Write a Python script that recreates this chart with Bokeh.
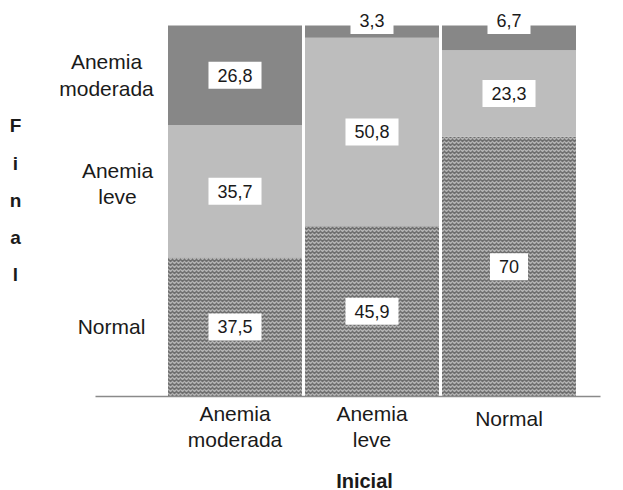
from bokeh.plotting import figure
from bokeh.models import Range1d
from bokeh.core.properties import value
from bokeh.embed import file_html
from bokeh.resources import INLINE

# ---- data ----
inicial = ["Anemia moderada", "Anemia leve", "Normal"]
final_cats = ["Normal", "Anemia leve", "Anemia moderada"]
normal = [37.5, 45.9, 70.0]
leve = [35.7, 50.8, 23.3]
moderada = [26.8, 3.3, 6.7]
tick_labels = ["Anemia\nmoderada", "Anemia\nleve", "Normal"]

FONT = value("Liberation Sans")
xs = list(range(len(inicial)))

# pixel geometry helpers (layout only)
PX_X = 137.0   # px per category
PX_Y = 3.71    # px per percent
X0 = 234.5     # screen x of first column centre
Y0 = 396.0     # screen y of baseline
W, H = 607, 490

def sx(px):
    return (px - X0) / PX_X

def sy(py):
    return (Y0 - py) / PX_Y

p = figure(width=W, height=H, output_backend="svg", toolbar_location=None,
           min_border=0, outline_line_color=None)
p.x_range = Range1d(sx(0), sx(W))
p.y_range = Range1d(sy(H), sy(0))
p.axis.visible = False
p.grid.visible = False
p.background_fill_color = "white"

bw = 134 / PX_X
b0 = [0] * 3
b1 = normal
b2 = [a + b for a, b in zip(normal, leve)]
b3 = [a + b for a, b in zip(b2, moderada)]

p.vbar(x=xs, bottom=b0, top=b1, width=bw, fill_color="#6e6e6e", line_color=None,
       hatch_pattern="horizontal_wave", hatch_color="#b4b4b4", hatch_scale=4,
       hatch_weight=1.3)
p.vbar(x=xs, bottom=b1, top=b2, width=bw, fill_color="#bdbdbd", line_color=None)
p.vbar(x=xs, bottom=b2, top=b3, width=bw, fill_color="#878787", line_color=None)

# baseline
p.segment(x0=[sx(95)], y0=[0], x1=[sx(600)], y1=[0],
          line_color="#8a8a8a", line_width=1.5)

# value labels
def fmt(v):
    return ("%g" % v).replace(".", ",")

lx, ly, lt = [], [], []
for i in xs:
    for bot, top, v in ((b0[i], b1[i], normal[i]), (b1[i], b2[i], leve[i]), (b2[i], b3[i], moderada[i])):
        lx.append(i)
        ly.append((bot + top) / 2 if v >= 10 else top + 5 / PX_Y)
        lt.append(fmt(v))

p.text(x=lx, y=ly, text=lt, text_font=FONT, text_font_size="18px",
       text_align="center", text_baseline="middle", text_color="#1a1a1a",
       background_fill_color="white", padding=(9, 7))

# x tick labels (Inicial)
p.text(x=xs[:2], y=[sy(401)] * 2, text=tick_labels[:2], text_font=FONT,
       text_font_size="21px", text_align="center", text_baseline="top",
       text_line_height=1.15, text_color="#1a1a1a")
p.text(x=[xs[2]], y=[sy(406)], text=[tick_labels[2]], text_font=FONT,
       text_font_size="21px", text_align="center", text_baseline="top",
       text_color="#1a1a1a")

# y category labels (Final), near first column's segments
ycats_y = [(b0[0] + b1[0]) / 2, (b1[0] + b2[0]) / 2 + 2, (b2[0] + b3[0]) / 2]
ycats_txt = ["Normal", "Anemia\nleve", "Anemia\nmoderada"]
p.text(x=[sx(111), sx(117), sx(106)], y=ycats_y, text=ycats_txt, text_font=FONT,
       text_font_size="21px", text_align="center", text_baseline="middle",
       text_line_height=1.15, text_color="#1a1a1a")

# axis titles
p.text(x=[sx(364)], y=[sy(480)], text=["Inicial"], text_font=FONT,
       text_font_size="20px", text_font_style="bold", text_align="center",
       text_baseline="middle", text_color="#1a1a1a")
letters = list("Final")
p.text(x=[sx(15)] * 5, y=[sy(yy) for yy in (125, 163, 200, 237, 274)],
       text=letters, text_font=FONT, text_font_size="19px", text_font_style="bold",
       text_align="center", text_baseline="middle", text_color="#1a1a1a")

open("out.html", "w").write(file_html(p, INLINE))
